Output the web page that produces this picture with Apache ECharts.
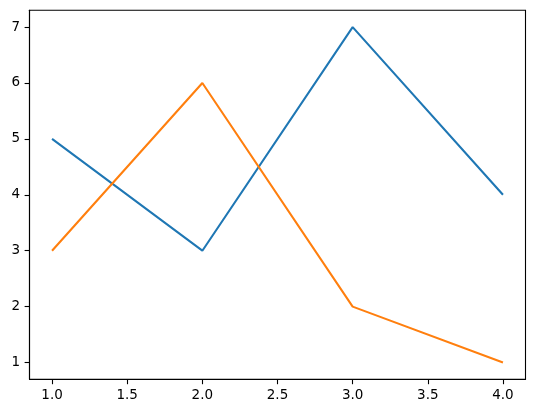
<!DOCTYPE html>
<html><head><meta charset="utf-8">
<script src="https://cdn.jsdelivr.net/npm/echarts@6/dist/echarts.min.js"></script>
<style>html,body{margin:0;padding:0;background:#fff}#c{width:534px;height:413px}</style>
</head><body><div id="c"></div>
<script>
const xValues = [1, 2, 3, 4];
const seriesA = [5, 3, 7, 4];
const seriesB = [3, 6, 2, 1];
const xTicks = [1.0, 1.5, 2.0, 2.5, 3.0, 3.5, 4.0];
const yTicks = [1, 2, 3, 4, 5, 6, 7];

const chart = echarts.init(document.getElementById('c'), null, {renderer: 'canvas'});
const font = {fontFamily: 'DejaVu Sans', fontSize: 13.5, color: '#000'};
chart.setOption({
  animation: false,
  backgroundColor: '#fff',
  grid: {left: 29.5, right: 8.5, top: 10.3, bottom: 33.7, show: true, borderColor: '#000', borderWidth: 1.1, backgroundColor: 'transparent'},
  xAxis: {
    type: 'value', min: 0.85, max: 4.15,
    axisLine: {show: true, onZero: false, lineStyle: {color: '#000', width: 1.1}},
    axisTick: {show: true, customValues: xTicks, length: 4.9, lineStyle: {color: '#000', width: 1.1}},
    axisLabel: Object.assign({customValues: xTicks, margin: 9.5, formatter: v => v.toFixed(1)}, font),
    splitLine: {show: false}
  },
  yAxis: {
    type: 'value', min: 0.7, max: 7.3,
    axisLine: {show: true, onZero: false, lineStyle: {color: '#000', width: 1.1}},
    axisTick: {show: true, customValues: yTicks, length: 4.9, lineStyle: {color: '#000', width: 1.1}},
    axisLabel: Object.assign({customValues: yTicks, margin: 9.5, formatter: v => String(v)}, font),
    splitLine: {show: false}
  },
  series: [
    {type: 'line', data: xValues.map((x, i) => [x, seriesA[i]]), showSymbol: false, symbol: 'none',
     lineStyle: {color: '#1f77b4', width: 2.08}, itemStyle: {color: '#1f77b4'}},
    {type: 'line', data: xValues.map((x, i) => [x, seriesB[i]]), showSymbol: false, symbol: 'none',
     lineStyle: {color: '#ff7f0e', width: 2.08}, itemStyle: {color: '#ff7f0e'}}
  ]
});
</script></body></html>
